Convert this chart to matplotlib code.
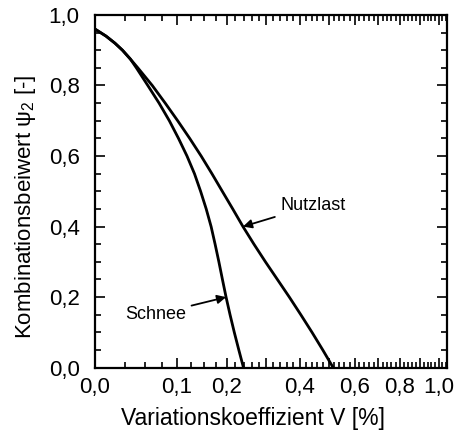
import numpy as np
import matplotlib
matplotlib.use("Agg")
import matplotlib.pyplot as plt
from matplotlib.ticker import FixedLocator, FixedFormatter

plt.rcParams['font.family'] = ['Liberation Sans', 'DejaVu Sans']
plt.rcParams['mathtext.fontset'] = 'custom'
plt.rcParams['mathtext.rm'] = 'Liberation Sans'
plt.rcParams['mathtext.it'] = 'Liberation Sans:italic'

# ---- data ----
nutz_psi = [0.96, 0.94, 0.92, 0.90, 0.875, 0.85, 0.80, 0.75, 0.70, 0.65, 0.60,
            0.55, 0.50, 0.45, 0.40, 0.35, 0.30, 0.25, 0.20, 0.15, 0.10, 0.05, 0.0]
nutz_v = [0.0, 0.0062, 0.0142, 0.0221, 0.0312, 0.0406, 0.0605, 0.0803, 0.1011,
          0.1227, 0.1448, 0.1669, 0.1895, 0.2135, 0.2383, 0.2664, 0.2974,
          0.3315, 0.3675, 0.4040, 0.4414, 0.4790, 0.5169]
schnee_psi = [0.96, 0.94, 0.92, 0.90, 0.875, 0.85, 0.80, 0.75, 0.70, 0.65, 0.60,
              0.55, 0.50, 0.45, 0.40, 0.35, 0.30, 0.25, 0.20, 0.15, 0.10, 0.05, 0.0]
schnee_v = [0.0, 0.0062, 0.0142, 0.0221, 0.0312, 0.0387, 0.0541, 0.0707, 0.0870,
            0.1025, 0.1177, 0.1317, 0.1437, 0.1550, 0.1652, 0.1737, 0.1819,
            0.1898, 0.1980, 0.2072, 0.2172, 0.2281, 0.2396]

xticks_major = [0.0, 0.1, 0.2, 0.3, 0.4, 0.5, 0.6, 0.7, 0.8, 0.9, 1.0]
xtick_labels = ['0,0', '0,1', '0,2', '', '0,4', '', '0,6', '', '0,8', '', '1,0']
yticks = [0.0, 0.2, 0.4, 0.6, 0.8, 1.0]
ytick_labels = ['0,0', '0,2', '0,4', '0,6', '0,8', '1,0']

# ---- nonlinear x scale ----
def fwd(x):
    x = np.clip(np.asarray(x, dtype=float), 0, None)
    return 0.5 * (np.log1p(5 * x) / np.log(6) + x ** 0.6)

_grid = np.linspace(0, 1.2, 20001)
_gv = fwd(_grid)

def inv(u):
    return np.interp(u, _gv, _grid)

fig = plt.figure(figsize=(4.61, 4.36), dpi=100)
ax = fig.add_axes([0.206, 0.1567, 0.7636, 0.809])
ax.set_xscale('function', functions=(fwd, inv))

ax.plot(nutz_v, nutz_psi, color='black', lw=2.0, solid_capstyle='round',
        solid_joinstyle='round')
ax.plot(schnee_v, schnee_psi, color='black', lw=2.0, solid_capstyle='round',
        solid_joinstyle='round')

ax.set_xlim(0, 1.045)
ax.set_ylim(0, 1.0)

ax.xaxis.set_major_locator(FixedLocator(xticks_major))
ax.xaxis.set_major_formatter(FixedFormatter(xtick_labels))
minor_x = list(np.arange(0.025, 0.2, 0.025)) + list(np.arange(0.22, 1.045, 0.02))
minor_x = [m for m in minor_x if min(abs(m - t) for t in xticks_major) > 1e-6]
ax.xaxis.set_minor_locator(FixedLocator(minor_x))

ax.yaxis.set_major_locator(FixedLocator(yticks))
ax.yaxis.set_major_formatter(FixedFormatter(ytick_labels))
ax.yaxis.set_minor_locator(FixedLocator(list(np.arange(0.05, 1.0, 0.05))))

ax.tick_params(which='both', direction='in', top=True, right=True, width=1.2,
               colors='black')
ax.tick_params(axis='x', which='major', length=7, pad=7, labelsize=16)
ax.tick_params(axis='y', which='major', length=7, pad=11, labelsize=16)
ax.tick_params(which='minor', length=4)
for s in ax.spines.values():
    s.set_linewidth(1.6)

ax.set_xlabel('Variationskoeffizient V [%]', fontsize=16.5, labelpad=6, x=0.449)
ax.set_ylabel('Kombinationsbeiwert ψ$_2$ [-]', fontsize=16, labelpad=8, y=0.456)

ax.annotate('Nutzlast', xy=(0.2383, 0.40), xytext=(0.34, 0.46),
            fontsize=13, va='center', ha='left',
            arrowprops=dict(arrowstyle='-|>', color='black', lw=1.3,
                            mutation_scale=13, shrinkA=2, shrinkB=0))
ax.annotate('Schnee', xy=(0.1980, 0.20), xytext=(0.025, 0.151),
            fontsize=13, va='center', ha='left',
            arrowprops=dict(arrowstyle='-|>', color='black', lw=1.3,
                            mutation_scale=13, shrinkA=2, shrinkB=0))

fig.savefig('out.png', dpi=100)
